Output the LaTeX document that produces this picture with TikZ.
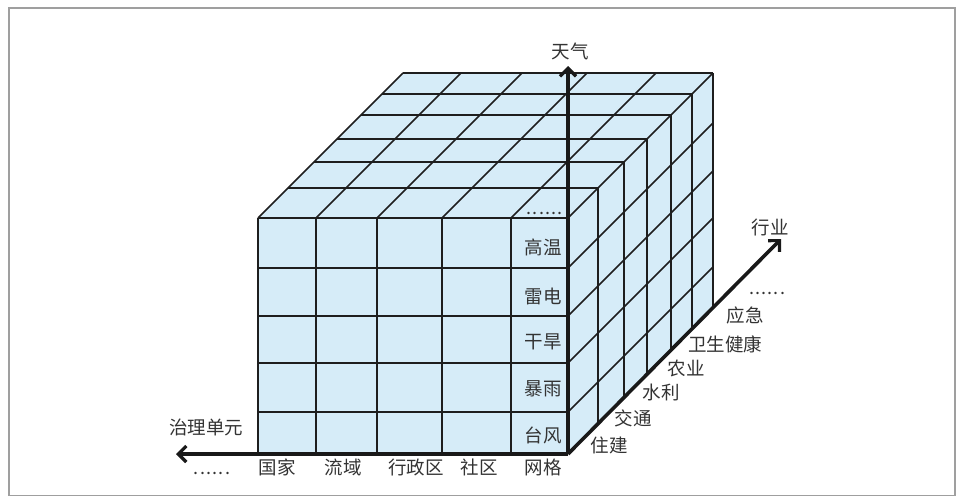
\documentclass[tikz,border=0pt]{standalone}
\usepackage{fontspec}
\setmainfont{Noto Sans CJK SC}
\usetikzlibrary{arrows.meta}
\definecolor{cellblue}{HTML}{D6ECF8}
\definecolor{gridc}{HTML}{1E1E1E}
\definecolor{txt}{HTML}{333333}
\newcommand{\sixdots}{.\kern1.2pt.\kern1.2pt.\kern1.2pt.\kern1.2pt.\kern1.2pt.}
\begin{document}
\begin{tikzpicture}[x=1pt,y=-1pt,
  grid/.style={draw=gridc, line width=1.5pt},
  axis/.style={draw=black!90, line width=3.6pt, -{Straight Barb[length=8pt,width=16pt,line width=3.2pt]}},
  lbl/.style={text=txt, font=\fontsize{18.5}{20}\selectfont, inner sep=0pt},
  dots/.style={text=txt, font=\fontsize{18}{20}\selectfont, inner sep=0pt}]
\useasboundingbox (0,0) rectangle (965,503);
\draw[draw=gray!75, line width=1.5pt] (9,8) rectangle (955,495.5);
% faces
\fill[cellblue] (258,218) -- (568,218) -- (568,454) -- (258,454) -- cycle;
\fill[cellblue] (258,218) -- (403,73) -- (713,73) -- (568,218) -- cycle;
\fill[cellblue] (568,218) -- (713,73) -- (713,309) -- (568,454) -- cycle;
% front grid
\foreach \x in {258,316,377,442,511} \draw[grid] (\x,218) -- (\x,454);
\foreach \y in {218,268,316,363,412} \draw[grid] (258,\y) -- (568,\y);
% top grid
\foreach \x in {258,316,377,442,511,568} \draw[grid] (\x,218) -- ++(145,-145);
\foreach \d in {30,56,79,103,124,145} \draw[grid] (258+\d,218-\d) -- (568+\d,218-\d);
% right grid
\foreach \d in {30,56,79,103,124,145} \draw[grid] (568+\d,218-\d) -- (568+\d,454-\d);
\foreach \y in {268,316,363,412} \draw[grid] (568,\y) -- ++(145,-145);
% axes
\coordinate (O) at (568,454);
\coordinate (ytip) at (568,66);
\coordinate (xtip) at (176,454);
\coordinate (ztip) at (781,239);
\draw[axis] (O) -- (xtip);
\draw[axis] (O) -- (ztip);
\draw[axis] (O) -- (ytip);
% axis labels
\node[lbl] (tianqi) at (570,51) {天气};
\node[lbl] (hangye) at (770,227) {行业};
\node[lbl] (zhili) at (206,427) {治理单元};
\node[dots, anchor=base] (xdots) at (212,474) {\sixdots};
% column labels
\node[lbl] (c1) at (277,467) {国家};
\node[lbl] (c2) at (343,467) {流域};
\node[lbl] (c3) at (416,467) {行政区};
\node[lbl] (c4) at (479,467) {社区};
\node[lbl] (c5) at (543,467) {网格};
% row labels
\node[lbl, anchor=east] (r1) at (562,435) {台风};
\node[lbl, anchor=east] (r2) at (562,389) {暴雨};
\node[lbl, anchor=east] (r3) at (562,342) {干旱};
\node[lbl, anchor=east] (r4) at (562,296) {雷电};
\node[lbl, anchor=east] (r5) at (562,247) {高温};
\node[dots, anchor=base east] (ydots) at (563,214) {\sixdots};
% industry labels
\node[lbl] (i1) at (609,445) {住建};
\node[lbl] (i2) at (633,418) {交通};
\node[lbl] (i3) at (661,392) {水利};
\node[lbl] (i4) at (686,368) {农业};
\node[lbl] (i5) at (725,344) {卫生健康};
\node[lbl] (i6) at (745,315) {应急};
\node[dots, anchor=base] (zdots) at (767,294) {\sixdots};
\end{tikzpicture}
\end{document}
